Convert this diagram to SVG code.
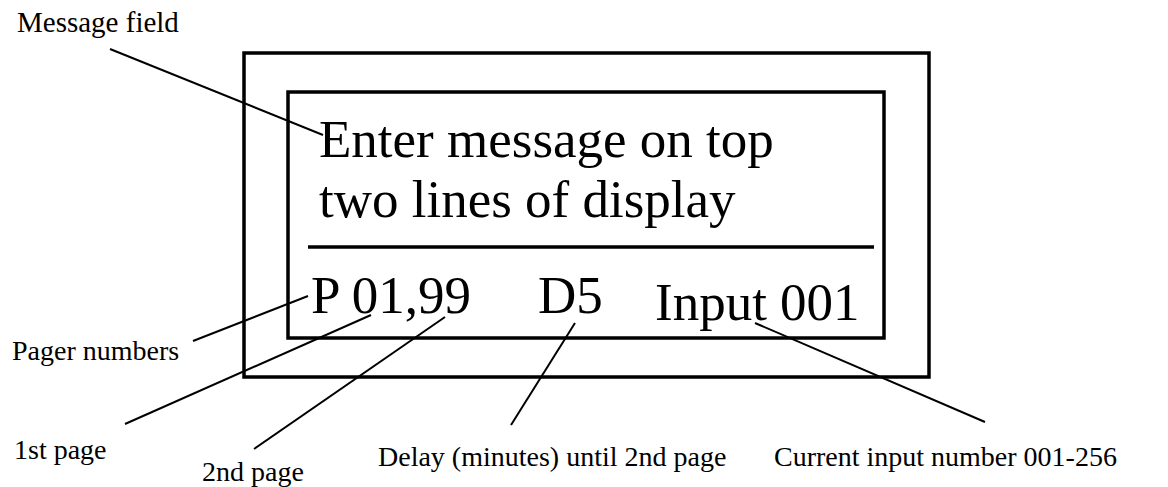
<svg xmlns="http://www.w3.org/2000/svg" width="1168" height="487" viewBox="0 0 1168 487">
<style>
.frame{fill:none;stroke:#000;stroke-width:3.5}
.sep{stroke:#000;stroke-width:3.5}
.lead{stroke:#000;stroke-width:2}
.big{font-family:"Liberation Serif","Times New Roman",serif;font-size:53px;fill:#000}
.lbl{font-family:"Liberation Serif","Times New Roman",serif;font-size:28px;fill:#000}
</style>
<rect width="1168" height="487" fill="#fff"/>
<g id="display">
<rect class="frame" x="244" y="53" width="685" height="324"/>
<rect class="frame" x="288" y="92" width="596" height="246"/>
<line class="sep" x1="308" y1="247" x2="874" y2="247"/>
</g>
<g id="message">
<text class="big" x="319" y="157">Enter message on top</text>
<text class="big" x="319" y="217">two lines of display</text>
</g>
<g id="pager"><text class="big" x="311" y="313">P 01,99</text></g>
<g id="delay"><text class="big" x="538" y="313">D5</text></g>
<g id="input"><text class="big" x="655" y="320">Input 001</text></g>
<g id="labels">
<text class="lbl" x="17" y="32" style="font-size:29px">Message field</text>
<text class="lbl" x="12" y="360">Pager numbers</text>
<text class="lbl" x="14" y="459">1st page</text>
<text class="lbl" x="202" y="481">2nd page</text>
<text class="lbl" x="378" y="466">Delay (minutes) until 2nd page</text>
<text class="lbl" x="774" y="466">Current input number 001-256</text>
</g>
<g id="connectors">
<line class="lead" x1="110" y1="49" x2="323" y2="135"/>
<line class="lead" x1="193" y1="341" x2="308" y2="296"/>
<line class="lead" x1="125" y1="424" x2="371" y2="315"/>
<line class="lead" x1="254" y1="449" x2="445" y2="317"/>
<line class="lead" x1="511" y1="425" x2="575" y2="323"/>
<line class="lead" x1="755" y1="323" x2="985" y2="422"/>
</g>
</svg>
